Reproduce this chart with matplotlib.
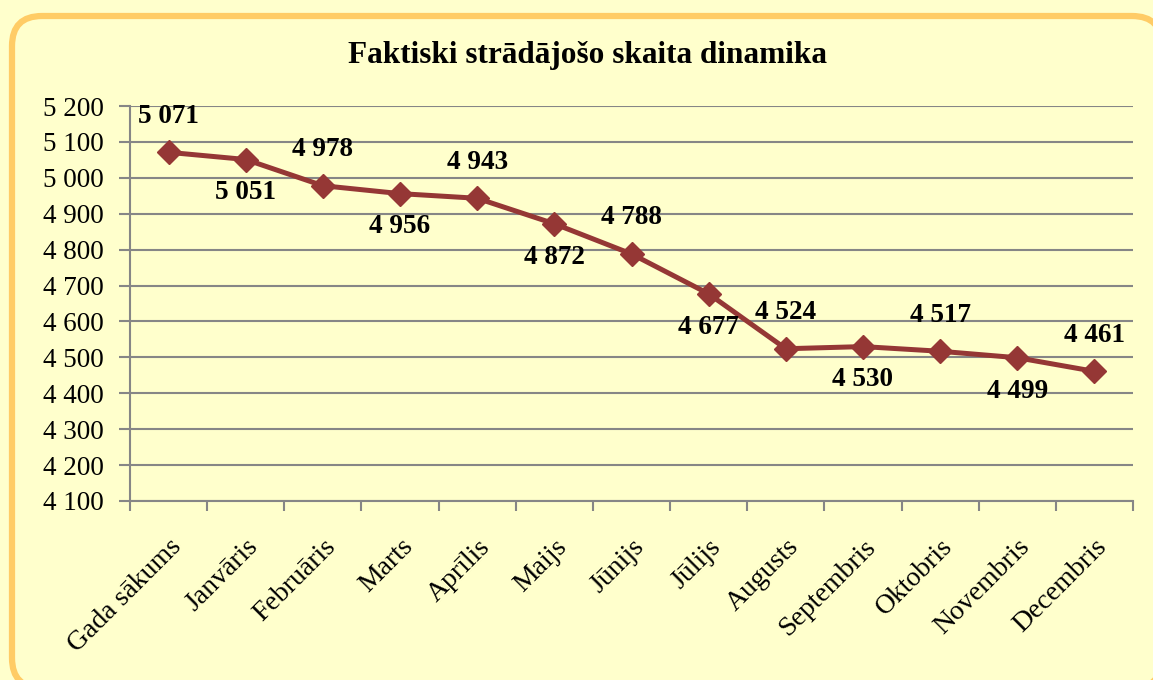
import matplotlib.pyplot as plt
from matplotlib.patches import FancyBboxPatch
from matplotlib.ticker import FuncFormatter

months = ['Gada sākums', 'Janvāris', 'Februāris', 'Marts', 'Aprīlis', 'Maijs',
          'Jūnijs', 'Jūlijs', 'Augusts', 'Septembris', 'Oktobris', 'Novembris',
          'Decembris']
workers = [5071, 5051, 4978, 4956, 4943, 4872, 4788, 4677, 4524, 4530, 4517, 4499, 4461]
label_above = [True, False, True, False, True, False, True, False, True, False, True, False, True]

bg = '#FFFFCC'
line_col = '#953735'
grid_col = '#868686'
plt.rcParams['font.family'] = ['Liberation Serif', 'DejaVu Serif']

fig = plt.figure(figsize=(11.53, 6.80), dpi=100, facecolor=bg)

# rounded frame, drawn in pixel units on a background axes
bgax = fig.add_axes([0, 0, 1, 1])
bgax.set_xlim(0, 1153)
bgax.set_ylim(680, 0)
bgax.axis('off')
frame = FancyBboxPatch((12, 16), 1150, 672, boxstyle='round,pad=0,rounding_size=30',
                       fc=bg, ec='#FFCC66', lw=4.5)
bgax.add_patch(frame)

ax = fig.add_axes([130 / 1153, (680 - 501) / 680, 1003 / 1153, 395 / 680])
ax.set_facecolor('none')

x = [i + 0.5 for i in range(len(months))]
ax.plot(x, workers, color=line_col, lw=3.6, marker='D', ms=12, zorder=3)

for xi, v, up in zip(x, workers, label_above):
    txt = f'{v:,}'.replace(',', ' ')
    ax.annotate(txt, (xi, v), xytext=(0, 26 if up else -24), textcoords='offset points',
                ha='center', va='center', fontsize=19.5, fontweight='bold', color='black')

ax.set_xlim(0, len(months))
ax.set_ylim(4100, 5200)
ax.set_yticks(range(4100, 5201, 100))
ax.yaxis.set_major_formatter(FuncFormatter(lambda v, p: f'{int(v):,}'.replace(',', ' ')))
ax.grid(axis='y', color=grid_col, lw=1.5)
ax.set_axisbelow(True)

# category boundaries get the tick marks, labels sit at the centres
ax.set_xticks(range(len(months) + 1))
ax.set_xticklabels([])
ax.set_xticks(x, minor=True)
ax.set_xticklabels(months, minor=True, rotation=45, ha='right', va='top',
                   rotation_mode='anchor', fontsize=20)
ax.tick_params(axis='x', which='major', length=7, width=1.5, color=grid_col)
ax.tick_params(axis='x', which='minor', length=0, pad=24)
ax.tick_params(axis='y', length=8, width=1.5, color=grid_col, pad=11, labelsize=19.5)

for s in ['top', 'right']:
    ax.spines[s].set_visible(False)
for s in ['left', 'bottom']:
    ax.spines[s].set_color(grid_col)
    ax.spines[s].set_linewidth(1.5)

fig.text(588 / 1153, 1 - 55 / 680, 'Faktiski strādājošo skaita dinamika', ha='center',
         va='center', fontsize=22.5, fontweight='bold')

fig.savefig('out.png', dpi=100, facecolor=bg)
